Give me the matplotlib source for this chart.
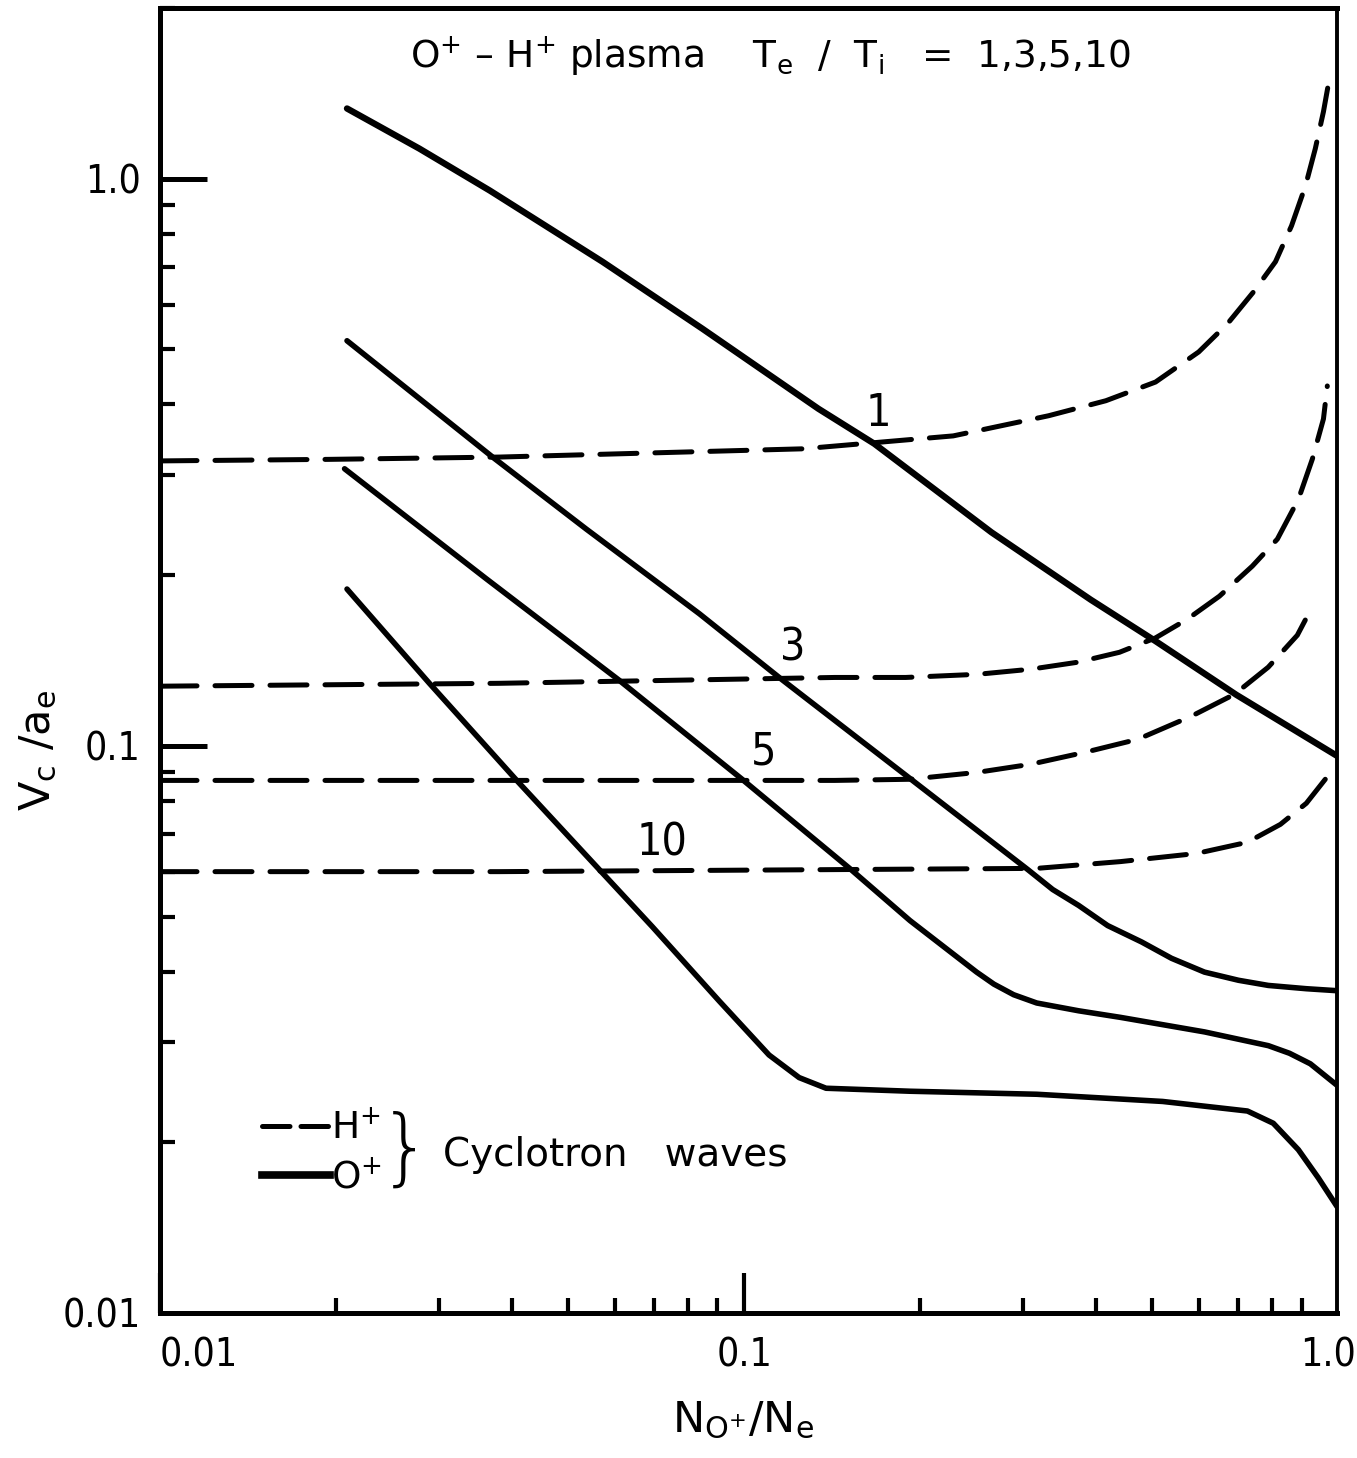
import numpy as np
import matplotlib
matplotlib.use("Agg")
import matplotlib.pyplot as plt
from matplotlib.lines import Line2D
from matplotlib.ticker import LogLocator, FixedLocator, FixedFormatter, NullFormatter

plt.rcParams['font.family'] = ['DejaVu Sans']
plt.rcParams['mathtext.fontset'] = 'dejavusans'

# Te/Ti values labelling the curves
ratio_labels = ['1', '3', '5', '10']
label_x = [0.1695, 0.121, 0.108, 0.0724]
label_y = [0.385, 0.149, 0.0974, 0.0674]

# O+ cyclotron waves (solid curves), Te/Ti = 1, 3, 5, 10
o1_x = [0.0209, 0.0278, 0.0367, 0.0572, 0.0848, 0.134, 0.167, 0.265, 0.392, 0.506, 0.696, 1.035]
o1_y = [1.33, 1.13, 0.953, 0.714, 0.544, 0.393, 0.341, 0.238, 0.181, 0.153, 0.123, 0.096]

o3_x = [0.0209, 0.0371, 0.0537, 0.0838, 0.1148, 0.1922, 0.3059, 0.3374, 0.3738, 0.419,
        0.479, 0.539, 0.6138, 0.7018, 0.7894, 0.917, 1.035]
o3_y = [0.518, 0.323, 0.241, 0.171, 0.132, 0.0876, 0.0605, 0.0558, 0.0523, 0.0482,
        0.0451, 0.0422, 0.0399, 0.0386, 0.0378, 0.0373, 0.037]

o5_x = [0.0207, 0.0362, 0.0611, 0.0992, 0.1524, 0.1922, 0.25, 0.2676, 0.2893, 0.3168,
        0.3738, 0.441, 0.6138, 0.7894, 0.858, 0.9315, 1.035]
o5_y = [0.308, 0.197, 0.1305, 0.0873, 0.0605, 0.0492, 0.0399, 0.0380, 0.0364, 0.0352,
        0.0341, 0.0332, 0.0313, 0.0296, 0.0287, 0.0275, 0.0252]

o10_x = [0.0209, 0.0289, 0.0408, 0.0565, 0.0696, 0.0906, 0.1103, 0.1242, 0.1381, 0.1922,
         0.3168, 0.5204, 0.727, 0.805, 0.8886, 0.9614, 1.035]
o10_y = [0.189, 0.129, 0.0869, 0.0605, 0.0480, 0.0355, 0.0285, 0.0260, 0.0249, 0.0246,
         0.0243, 0.0236, 0.0227, 0.0216, 0.0194, 0.0173, 0.0154]

# H+ cyclotron waves (dashed curves), Te/Ti = 1, 3, 5, 10
h1_x = [0.01, 0.0195, 0.0381, 0.126, 0.228, 0.332, 0.416, 0.506, 0.600, 0.672, 0.745,
        0.812, 0.865, 0.914, 0.950, 0.981, 1.004]
h1_y = [0.318, 0.320, 0.323, 0.334, 0.352, 0.382, 0.406, 0.438, 0.495, 0.555, 0.632,
        0.714, 0.826, 0.972, 1.13, 1.313, 1.50]

h3_x = [0.01, 0.0381, 0.143, 0.189, 0.251, 0.3095, 0.372, 0.439, 0.506, 0.574, 0.651,
        0.741, 0.818, 0.889, 0.939, 0.981, 0.996]
h3_y = [0.1274, 0.1289, 0.132, 0.132, 0.1337, 0.1365, 0.1404, 0.1462, 0.155, 0.1673, 0.1836,
        0.2074, 0.2315, 0.2723, 0.3204, 0.3771, 0.4311]

h5_x = [0.01, 0.0381, 0.143, 0.192, 0.251, 0.3095, 0.383, 0.472, 0.583, 0.691, 0.789,
        0.885, 0.928]
h5_y = [0.0869, 0.0869, 0.0869, 0.0873, 0.0898, 0.0928, 0.0974, 0.1027, 0.1128, 0.1233,
        0.1376, 0.1567, 0.172]

h10_x = [0.01, 0.0381, 0.3168, 0.441, 0.595, 0.727, 0.828, 0.917, 0.988]
h10_y = [0.060, 0.060, 0.0608, 0.0625, 0.0646, 0.0676, 0.0727, 0.0792, 0.0873]

# axis ticks
major_ticks = [0.01, 0.1, 1.0]
major_labels = ['0.01', '0.1', '1.0']

fig = plt.figure(figsize=(13.57, 14.58), dpi=100)
ax = fig.add_axes([0.1179, 0.0995, 0.8674, 0.895])
ax.set_xscale('log')
ax.set_yscale('log')
ax.set_xlim(0.01, 1.035)
ax.set_ylim(0.01, 2.0)

dash = (0, (7.4, 3.6))
o_lw = [4.6, 4.0, 4.0, 4.0]
for xs, ys, lw in zip([o1_x, o3_x, o5_x, o10_x], [o1_y, o3_y, o5_y, o10_y], o_lw):
    ax.plot(xs, ys, color='black', lw=lw, solid_joinstyle='round', solid_capstyle='round')
for xs, ys in zip([h1_x, h3_x, h5_x, h10_x], [h1_y, h3_y, h5_y, h10_y]):
    ax.plot(xs, ys, color='black', lw=3.6, linestyle=dash, dash_capstyle='round')

for t, lx, ly in zip(ratio_labels, label_x, label_y):
    ax.text(lx, ly, t, fontsize=32, ha='center', va='center', fontstretch='condensed')

# ticks
for axis in (ax.xaxis, ax.yaxis):
    axis.set_major_locator(FixedLocator(major_ticks))
    axis.set_major_formatter(FixedFormatter(major_labels))
    axis.set_minor_locator(LogLocator(base=10, subs=np.arange(2, 10)))
    axis.set_minor_formatter(NullFormatter())
ax.tick_params(which='both', direction='in', color='black', top=False, right=False)
ax.tick_params(axis='y', which='major', length=34, width=3.6, pad=14, labelsize=28)
ax.tick_params(axis='x', which='major', length=29, width=3.0, pad=17, labelsize=28)
ax.tick_params(which='minor', length=11, width=3.0)
for lab in ax.get_xticklabels() + ax.get_yticklabels():
    lab.set_fontstretch('condensed')
ax.get_xticklabels()[0].set_ha('left')
ax.xaxis.get_major_ticks()[2].tick1line.set_visible(False)

for side in ['left', 'bottom', 'top']:
    ax.spines[side].set_linewidth(3.6)
ax.spines['right'].set_linewidth(2.8)

# title and axis labels
ax.text(0.2124, 0.9632,
        r'O$^{+}$ – H$^{+}$ plasma    T$_{\mathrm{e}}$  /  T$_{\mathrm{i}}$   =  1,3,5,10',
        transform=ax.transAxes, fontsize=27, ha='left', va='center')
ax.text(-0.1037, 0.4314, r'V$_{\mathrm{c}}$ /a$_{\mathrm{e}}$', transform=ax.transAxes,
        fontsize=31, rotation=90, ha='center', va='center')
ax.text(0.4953, -0.082, r'N$_{\mathrm{O^{+}}}$/N$_{\mathrm{e}}$', transform=ax.transAxes,
        fontsize=31, ha='center', va='center')

# legend
handles = [Line2D([], [], color='black', lw=3.6, linestyle=(0, (5.5, 2.2)), dash_capstyle='round'),
           Line2D([], [], color='black', lw=5.5)]
ax.legend(handles, [r'H$^{+}$', r'O$^{+}$'], loc='center left', bbox_to_anchor=(0.0867, 0.1222),
          frameon=False, fontsize=27, handlelength=1.8, handletextpad=0.05,
          labelspacing=0.35, borderpad=0, borderaxespad=0)
ax.text(0.2085, 0.1235, '}', transform=ax.transAxes, fontsize=60, fontweight='ultralight',
        ha='center', va='center')
ax.text(0.2405, 0.1211, 'Cyclotron   waves', transform=ax.transAxes, fontsize=28,
        ha='left', va='center')

fig.savefig('out.png', dpi=100)
